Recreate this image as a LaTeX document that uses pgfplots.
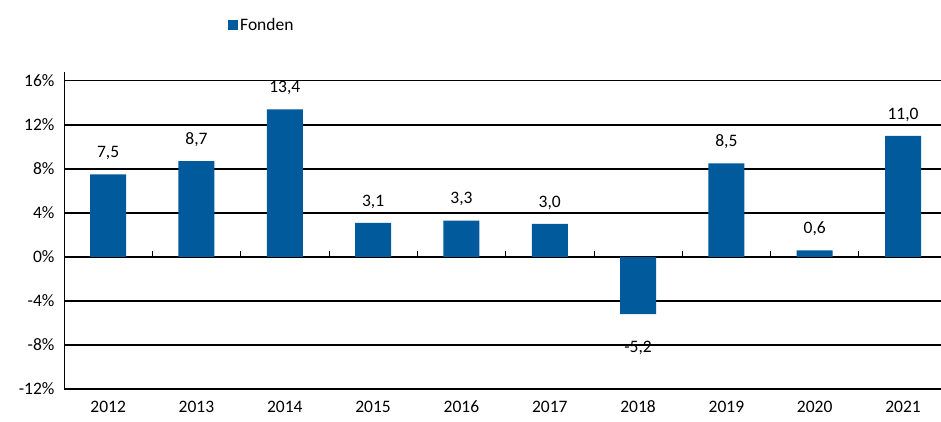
\documentclass[border=0pt]{standalone}
\usepackage{fontspec}
\setmainfont{Carlito}
\usepackage{pgfplots}
\pgfplotsset{compat=1.18}
\usetikzlibrary{calc}
\definecolor{barblue}{RGB}{0,90,156}
\newcommand{\cf}{\fontsize{17.5}{21}\selectfont}
\begin{document}
\begin{tikzpicture}
\begin{axis}[
  scale only axis, width=877pt, height=317pt,
  ymin=-12, ymax=16.8, xmin=-0.5, xmax=9.43,
  ytick={-12,-8,...,16},
  xtick={0,...,9},
  xticklabels={2012,2013,2014,2015,2016,2017,2018,2019,2020,2021},
  axis lines*=left,
  x axis line style={draw=none},
  y axis line style={black, line width=0.8pt},
  ymajorgrids,
  grid style={black, line width=1.4pt},
  tick style={draw=none},
  /pgf/number format/assume math mode=true,
  yticklabel={\pgfmathprintnumber[fixed,precision=0,fixed zerofill=false]{\tick}\%},
  ticklabel style={font=\cf},
  xticklabel style={yshift=-4pt},
  yticklabel style={xshift=-6pt},
  ybar, bar width=36pt,
  nodes near coords,
  nodes near coords align=vertical,
  visualization depends on={y \as \rawy},
  every node near coord/.append style={font=\cf, text=black, yshift={ifthenelse(\rawy>0,11,-23)}},
  /pgf/number format/.cd, fixed, fixed zerofill, precision=1, use comma,
  /pgfplots/.cd,
  legend style={at={(rel axis cs:0.187,1.148)}, anchor=west, draw=none, fill=none, inner sep=0pt, font=\cf},
  legend image code/.code={\fill[barblue] (0pt,-5pt) rectangle (10pt,5pt);},
  clip=false,
]
\addplot[fill=barblue, draw=none] coordinates {
  (0,7.5) (1,8.7) (2,13.4) (3,3.1) (4,3.3) (5,3.0) (6,-5.2) (7,8.5) (8,0.6) (9,11.0)
};
\addlegendentry{Fonden}
\pgfplotsinvokeforeach{0.5,1.5,2.5,3.5,4.5,5.5,6.5,7.5,8.5}{
  \draw[black, line width=0.8pt] (axis cs:#1,0) -- ([yshift=6pt]axis cs:#1,0);
}
\coordinate (bl) at (rel axis cs:0,0);
\coordinate (tr) at (rel axis cs:1,1);
\end{axis}
\pgfresetboundingbox
\path[use as bounding box] ($(bl)+(-64pt,-33pt)$) rectangle ($(tr)+(0pt,72pt)$);
\end{tikzpicture}
\end{document}
